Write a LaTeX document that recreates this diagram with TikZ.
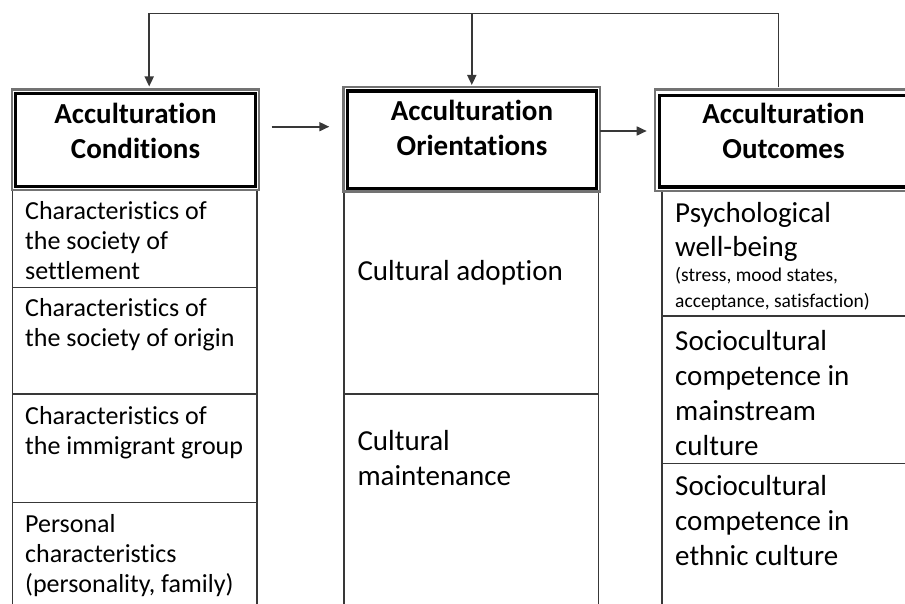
\documentclass[tikz,border=0pt]{standalone}
\usepackage{fontspec}
\setmainfont{Carlito}[Ligatures=NoCommon]
\usetikzlibrary{arrows.meta}
\definecolor{ln}{gray}{0.22}
\definecolor{framegray}{gray}{0.45}
\begin{document}
\begin{tikzpicture}[x=1pt,y=-1pt,
  innerbox/.style={draw=black, line width=3.5pt, inner sep=0pt, outer sep=0pt},
  outerbox/.style={draw=framegray, line width=2.8pt, inner sep=0pt, outer sep=0pt},
  cell/.style={draw=ln, line width=1.6pt, inner sep=0pt, outer sep=0pt, anchor=north west},
  arr/.style={draw=ln, line width=1.7pt, line join=miter, -{Triangle[length=10pt,width=9pt]}},
  txt/.style={anchor=base west, inner sep=0pt, text=black},
  htxt/.style={anchor=base, inner sep=0pt, text=black, font=\bfseries\fontsize{29}{34.5}\selectfont},
  fa/.style={font=\fontsize{26}{30}\selectfont},
  fb/.style={font=\fontsize{29}{35}\selectfont},
  fs/.style={font=\fontsize{19.5}{25.5}\selectfont},
]
\useasboundingbox (0,0) rectangle (905,604);
\fill[white] (0,0) rectangle (905,604);

% cells, column 1
\node[cell, minimum width=244.4pt, minimum height=97.3pt]  (c11) at (12.3,190) {};
\node[cell, minimum width=244.4pt, minimum height=106.7pt] (c12) at (12.3,287.3) {};
\node[cell, minimum width=244.4pt, minimum height=108.3pt] (c13) at (12.3,394) {};
\node[cell, minimum width=244.4pt, minimum height=120pt]   (c14) at (12.3,502.3) {};
% cells, column 2
\node[cell, minimum width=254.3pt, minimum height=203pt] (c21) at (344,191) {};
\node[cell, minimum width=254.3pt, minimum height=230pt] (c22) at (344,394) {};
% cells, column 3
\node[cell, minimum width=300pt, minimum height=125pt]   (c31) at (661.7,191) {};
\node[cell, minimum width=300pt, minimum height=147.3pt] (c32) at (661.7,316) {};
\node[cell, minimum width=300pt, minimum height=160pt]   (c33) at (661.7,463.3) {};

% header frames
\node[outerbox, minimum width=247pt, minimum height=100.5pt] (h1o) at (135.5,139.75) {};
\node[innerbox, minimum width=240pt, minimum height=92.8pt]  (h1)  at (135.5,140.1) {};
\node[outerbox, minimum width=256.7pt, minimum height=104.5pt] (h2o) at (471.65,139.25) {};
\node[innerbox, minimum width=249pt, minimum height=97.5pt]   (h2)  at (472,139.75) {};
\node[outerbox, minimum width=305pt, minimum height=101.5pt] (h3o) at (807.5,140.25) {};
\node[innerbox, minimum width=296pt, minimum height=91.7pt]  (h3)  at (807.5,141.15) {};

% header texts
\node[htxt] (h1t) at (135.5,124) {\parbox[t]{230pt}{\centering Acculturation\\Conditions}};
\node[htxt] (h2t) at (472,121)   {\parbox[t]{240pt}{\centering Acculturation\\Orientations}};
\node[htxt] (h3t) at (783.5,124) {\parbox[t]{240pt}{\centering Acculturation\\Outcomes}};

% column 1 texts
\node[txt,fa] (t11) at (25,219.3) {\parbox[t]{228pt}{\raggedright Characteristics of\\the society of\\settlement}};
\node[txt,fa] (t12) at (25,316.7) {\parbox[t]{228pt}{\raggedright Characteristics of\\the society of origin}};
\node[txt,fa] (t13) at (25,424)   {\parbox[t]{228pt}{\raggedright Characteristics of\\the immigrant group}};
\node[txt,fa] (t14) at (25,532.3) {\parbox[t]{228pt}{\raggedright Personal\\characteristics\\(personality, family)}};

% column 2 texts
\node[txt,fb] (t21) at (357.3,280.7) {\parbox[t]{235pt}{\raggedright Cultural adoption}};
\node[txt,fb] (t22) at (357.3,450.7) {\parbox[t]{235pt}{\raggedright Cultural\\maintenance}};

% column 3 texts
\node[txt,font=\fontsize{29}{34.4}\selectfont] (t31) at (675,222.3) {\parbox[t]{225pt}{\raggedright Psychological\\well-being}};
\node[txt,fs] (t31s) at (675,281.7) {\parbox[t]{225pt}{\raggedright (stress, mood states,\\acceptance, satisfaction)}};
\node[txt,fb] (t32) at (675,350) {\parbox[t]{225pt}{\raggedright Sociocultural\\competence in\\mainstream\\culture}};
\node[txt,fb] (t33) at (675,495) {\parbox[t]{225pt}{\raggedright Sociocultural\\competence in\\ethnic culture}};

% feedback connector
\coordinate (fbR) at (778.5,13.5);
\coordinate (fbL) at (149.2,13.5);
\coordinate (fbM) at (471.8,13.5);
\draw[arr, shorten <=2pt, shorten >=3pt] (fbR |- h3o.north) -- (fbR) -- (fbL) -- (fbL |- h1o.north);
\draw[arr, shorten >=2pt] (fbM) -- (fbM |- h2o.north);

% forward arrows
\coordinate (a1) at (0,126.7);
\coordinate (a2) at (0,131);
\draw[arr, shorten <=12.7pt, shorten >=14pt] (h1o.east |- a1) -- (h2o.west |- a1);
\draw[arr, shorten >=8.3pt] (h2o.east |- a2) -- (h3o.west |- a2);
\end{tikzpicture}
\end{document}
